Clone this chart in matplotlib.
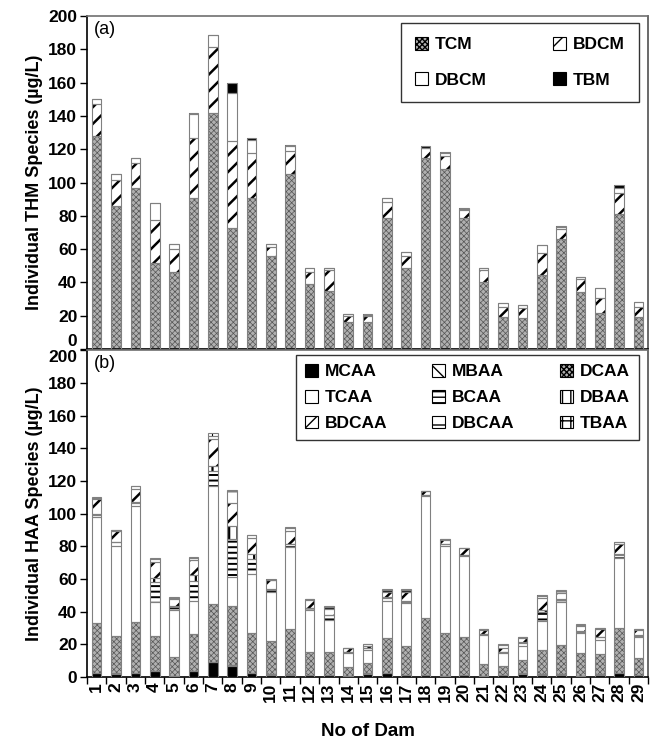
import numpy as np
import matplotlib
matplotlib.use('Agg')
import matplotlib.pyplot as plt
from matplotlib.patches import Patch

plt.rcParams['font.family'] = ['Liberation Sans', 'DejaVu Sans']

dams = list(range(1, 30))

# THM species (ug/L)
tcm = [128, 86, 96.5, 52, 46.5, 91, 142, 73, 91, 56, 105, 39, 35, 16.5, 16,
       79, 49, 115, 108, 78.5, 40, 19.5, 18.5, 44.5, 66, 34.5, 21.5, 81, 19]
bdcm = [19, 15.5, 15.5, 25.5, 13.5, 36, 39.5, 52, 26.5, 5.5, 14, 7.5, 12.5, 3.5, 4,
        9.5, 7, 5.5, 8, 5, 7.5, 5.5, 6, 13, 6, 7.5, 9, 13, 6.5]
dbcm = [3, 3.5, 2.5, 10, 3, 14, 7, 29, 8, 1.5, 3, 2.5, 1, 1, 0.5,
        2, 2.5, 0.5, 2, 0.5, 1, 2.5, 2, 5, 1.5, 1.5, 6, 3, 2.5]
tbm = [0, 0.3, 0, 0.5, 0, 0.5, 0, 6, 1, 0, 0.3, 0, 0, 0.3, 0.5,
       0, 0, 1, 0.3, 0.5, 0, 0, 0, 0, 0.3, 0, 0, 1.5, 0]

# HAA species (ug/L)
mcaa = [2.5, 2, 2.5, 3.5, 0.5, 3.5, 9, 7, 2.5, 1.5, 1.5, 1, 1, 0.5, 2,
        2.5, 1, 1, 0.5, 1, 0.3, 1, 2, 1.5, 1.5, 0.5, 1.5, 2.5, 1]
mbaa = [0.2] * 29
dcaa = [30.5, 23, 31, 21.5, 11.5, 22.5, 35.5, 36.5, 24, 20.5, 27.5, 14, 14, 5.5, 6.5,
        21, 17.5, 35, 26.5, 23.5, 7.7, 5.5, 8, 15, 18, 14, 12.5, 27.5, 10.5]
tcaa = [64.5, 55, 71, 20.5, 29, 20.5, 72.5, 17.5, 36.5, 30, 50.5, 26, 20, 8.5, 8,
        23, 26.5, 74.5, 53, 49.5, 17.5, 8, 9, 17.5, 26.5, 12, 8.5, 42.5, 13]
bcaa = [1.5, 2.5, 2, 12.5, 1.5, 12, 9, 23, 9, 1, 1.5, 1, 2.5, 0.8, 0.8,
        1.5, 1, 0.5, 1, 0.5, 0.5, 0.5, 1.5, 5.5, 1, 1, 1.5, 2, 0.5]
dbaa = [0.5, 0, 0.5, 2.5, 0.5, 4, 3, 8.5, 3, 0.5, 0.5, 0.3, 0.5, 0, 0.2,
        0.5, 0.5, 0, 0.3, 0, 0, 0.3, 0.5, 1.5, 0.5, 0.5, 0.5, 0.5, 0.3]
bdcaa = [9, 7, 8, 10, 4.5, 9, 16.5, 14, 10, 5.5, 8, 4.5, 3.5, 2, 1.5,
         3.5, 5.5, 2.5, 2.5, 4, 2.5, 2.5, 2.5, 7, 4, 3, 4.5, 6.5, 3.5]
dbcaa = [1, 0.5, 1.5, 1.5, 0.5, 1, 2, 7.5, 1.5, 0.5, 1.5, 0.5, 1, 0.2, 0.8,
         1, 1, 0.5, 0.5, 0.5, 0.5, 1.5, 0.5, 1.5, 1, 0.5, 0.5, 0.8, 0.2]
tbaa = [0.5, 0, 0.5, 0.5, 0.5, 1, 1.5, 0.5, 0.5, 0.5, 0.5, 0, 0.5, 0.2, 0.2,
        0.5, 0.5, 0, 0, 0, 0, 0.5, 0, 0.5, 0.5, 0.5, 0.3, 0.3, 0]

# name -> (facecolor, hatch, hatch colour, hatch linewidth)
styles = {
    'TCM': ('#b0b0b0', 'xxxxxx', '#555555', 0.5),
    'BDCM': ('white', '//', 'black', 1.8),
    'DBCM': ('white', None, 'black', 1.0),
    'TBM': ('black', None, 'black', 1.0),
    'MCAA': ('black', None, 'black', 1.0),
    'MBAA': ('white', '\\\\', 'black', 1.6),
    'DCAA': ('#b0b0b0', 'xxxxxx', '#555555', 0.5),
    'TCAA': ('white', None, 'black', 1.0),
    'BCAA': ('white', '---', 'black', 1.4),
    'DBAA': ('white', '||', 'black', 1.6),
    'BDCAA': ('white', '//', 'black', 1.8),
    'DBCAA': ('white', '-', 'black', 0.8),
    'TBAA': ('white', '++', 'black', 0.8),
}

width = 0.5


def make_patch(name):
    fc, hatch, hc, hlw = styles[name]
    with plt.rc_context({'hatch.linewidth': hlw}):
        p = Patch(facecolor=fc, edgecolor='black', hatch=hatch, linewidth=0.8)
    if hasattr(p, 'set_hatch_linewidth'):
        p.set_hatch_linewidth(min(hlw, 1.2))
    return p


def stacked(ax, series):
    x = np.array(dams)
    bottom = np.zeros(len(x))
    for name, vals in series:
        vals = np.array(vals, dtype=float)
        fc, hatch, hc, hlw = styles[name]
        with plt.rc_context({'hatch.linewidth': hlw}):
            bars = ax.bar(x, vals, width, bottom=bottom, color=fc,
                          edgecolor=hc, linewidth=0, hatch=hatch, zorder=2)
        for b in bars:
            if hasattr(b, 'set_hatch_linewidth'):
                b.set_hatch_linewidth(hlw)
        ax.bar(x, vals, width, bottom=bottom, fill=False,
               edgecolor='#808080', linewidth=0.8, zorder=3)
        bottom += vals


def style_axes(ax):
    ax.set_xlim(0.5, 29.5)
    ax.set_ylim(0, 200)
    ax.set_yticks(range(0, 201, 20))
    ax.tick_params(axis='y', direction='out', length=5, width=1,
                   labelsize=12.5, pad=2)
    for lab in ax.get_yticklabels():
        lab.set_fontweight('bold')
    ax.spines['left'].set_color('black')
    ax.spines['bottom'].set_color('black')
    ax.spines['top'].set_color('#707070')
    ax.spines['right'].set_color('#505050')
    for s in ax.spines.values():
        s.set_linewidth(1.2)


fig = plt.figure(figsize=(6.56, 7.46), dpi=100)
ax1 = fig.add_axes([0.1326, 0.532, 0.8554, 0.4466])
ax2 = fig.add_axes([0.1326, 0.0925, 0.8554, 0.4378])

stacked(ax1, [('TCM', tcm), ('BDCM', bdcm), ('DBCM', dbcm), ('TBM', tbm)])
stacked(ax2, [('MCAA', mcaa), ('MBAA', mbaa), ('DCAA', dcaa), ('TCAA', tcaa),
              ('BCAA', bcaa), ('DBAA', dbaa), ('BDCAA', bdcaa), ('DBCAA', dbcaa),
              ('TBAA', tbaa)])

style_axes(ax1)
style_axes(ax2)
ax1.set_xticks([])

# the two panels touch: lift the lower 0 and drop the upper 200 a little
ax1.get_yticklabels()[0].set_va('bottom')
ax2.get_yticklabels()[-1].set_va('top')

ax2.set_xticks(np.arange(0.5, 30.5, 1))
ax2.set_xticklabels([])
ax2.set_xticks(dams, minor=True)
ax2.set_xticklabels([str(d) for d in dams], minor=True, rotation=90,
                    fontsize=12.5, fontweight='bold')
ax2.tick_params(axis='x', which='major', direction='out', length=5, width=1)
ax2.tick_params(axis='x', which='minor', length=0, pad=4)

ax1.set_ylabel('Individual THM Species (µg/L)', fontsize=13, fontweight='bold',
               labelpad=4)
ax2.set_ylabel('Individual HAA Species (µg/L)', fontsize=13, fontweight='bold',
               labelpad=4)
ax2.set_xlabel('No of Dam', fontsize=13.5, fontweight='bold', labelpad=15)

ax1.text(0.012, 0.985, '(a)', transform=ax1.transAxes, fontsize=13,
         va='top', ha='left')
ax2.text(0.012, 0.985, '(b)', transform=ax2.transAxes, fontsize=13,
         va='top', ha='left')

# legend (a): row-wise TCM, BDCM / DBCM, TBM
h1 = [make_patch(n) for n in ['TCM', 'DBCM', 'BDCM', 'TBM']]
leg1 = ax1.legend(h1, ['TCM', 'DBCM', 'BDCM', 'TBM'], ncol=2,
                  loc='upper right', bbox_to_anchor=(0.983, 0.979),
                  prop={'weight': 'bold', 'size': 12.5}, frameon=True,
                  fancybox=False, edgecolor='black', handlelength=0.75,
                  handleheight=0.75, handletextpad=0.4, columnspacing=3.8,
                  labelspacing=1.15, borderpad=0.8, borderaxespad=0)
leg1.get_frame().set_linewidth(1.0)

# legend (b): row-wise in 3 columns
order = ['MCAA', 'TCAA', 'BDCAA', 'MBAA', 'BCAA', 'DBCAA', 'DCAA', 'DBAA', 'TBAA']
h2 = [make_patch(n) for n in order]
leg2 = ax2.legend(h2, order, ncol=3, loc='upper right',
                  bbox_to_anchor=(0.983, 0.985),
                  prop={'weight': 'bold', 'size': 12.5}, frameon=True,
                  fancybox=False, edgecolor='black', handlelength=0.75,
                  handleheight=0.75, handletextpad=0.4, columnspacing=2.6,
                  labelspacing=0.6, borderpad=0.5, borderaxespad=0)
leg2.get_frame().set_linewidth(1.0)

fig.savefig('out.png', dpi=100)
